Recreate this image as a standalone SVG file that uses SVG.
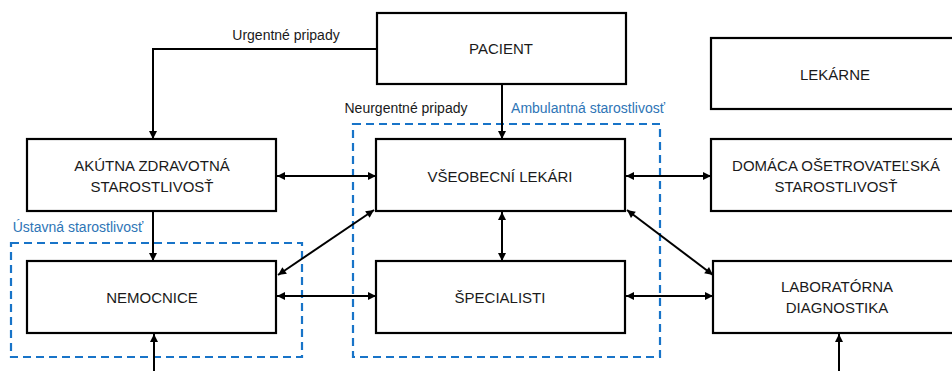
<svg xmlns="http://www.w3.org/2000/svg" width="952" height="371" viewBox="0 0 952 371">
<defs>
<marker id="ah" viewBox="0 0 10 10" refX="10" refY="5" markerWidth="9" markerHeight="8" markerUnits="userSpaceOnUse" orient="auto-start-reverse">
<path d="M0,0 L10,5 L0,10 z" fill="#000"/>
</marker>
<style>
.box{fill:#fff;stroke:#000;stroke-width:2.2}
.t{font-family:"Liberation Sans",Arial,sans-serif;font-size:15px;fill:#1a1a1a;text-anchor:middle}
.lbl{font-family:"Liberation Sans",Arial,sans-serif;font-size:14px;fill:#1a1a1a;text-anchor:middle}
.blue{fill:#2E75B6}
.grp{fill:none;stroke:#1874C8;stroke-width:2.2;stroke-dasharray:8,5}
.c{fill:none;stroke:#000;stroke-width:2}
.one{marker-end:url(#ah)}
.two{marker-start:url(#ah);marker-end:url(#ah)}
</style>
</defs>
<rect width="952" height="371" fill="#fff"/>
<g id="groups">
<rect class="grp" x="353" y="124" width="307" height="233"/>
<rect class="grp" x="11" y="243" width="291" height="114"/>
<text class="lbl blue" x="588" y="113">Ambulantná starostlivosť</text>
<text class="lbl blue" x="78" y="232">Ústavná starostlivosť</text>
</g>
<g id="connectors">
<path class="c one" d="M377,49 H153 V139"/>
<path class="c one" d="M502,84 V139"/>
<path class="c one" d="M153,211 V261"/>
<path class="c two" d="M277,176 H376"/>
<path class="c two" d="M626,176 H711"/>
<path class="c two" d="M502,212 V261"/>
<path class="c two" d="M374,210 L278,275"/>
<path class="c two" d="M627,210 L713,275"/>
<path class="c two" d="M277,296 H376"/>
<path class="c two" d="M626,296 H713"/>
<path class="c one" d="M154,371 V334"/>
<path class="c one" d="M839,371 V334"/>
<text class="lbl" x="286" y="40">Urgentné pripady</text>
<text class="lbl" x="406" y="113">Neurgentné pripady</text>
</g>
<g id="pacient"><rect class="box" x="377" y="13" width="249" height="71"/><text class="t" x="501" y="54">PACIENT</text></g>
<g id="lekarne"><rect class="box" x="711" y="38" width="250" height="71"/><text class="t" x="835" y="80">LEKÁRNE</text></g>
<g id="akutna"><rect class="box" x="27" y="139" width="249" height="72"/><text class="t" x="152" y="171">AKÚTNA ZDRAVOTNÁ</text><text class="t" x="152" y="192">STAROSTLIVOSŤ</text></g>
<g id="vseobecni"><rect class="box" x="376" y="139" width="249" height="72"/><text class="t" x="500" y="182">VŠEOBECNÍ LEKÁRI</text></g>
<g id="domaca"><rect class="box" x="711" y="139" width="250" height="72"/><text class="t" x="836" y="171">DOMÁCA OŠETROVATEĽSKÁ</text><text class="t" x="836" y="192">STAROSTLIVOSŤ</text></g>
<g id="nemocnice"><rect class="box" x="27" y="261" width="249" height="72"/><text class="t" x="152" y="303">NEMOCNICE</text></g>
<g id="specialisti"><rect class="box" x="376" y="261" width="249" height="72"/><text class="t" x="500" y="303">ŠPECIALISTI</text></g>
<g id="laboratorna"><rect class="box" x="713" y="261" width="248" height="72"/><text class="t" x="837" y="292">LABORATÓRNA</text><text class="t" x="837" y="313">DIAGNOSTIKA</text></g>
</svg>
